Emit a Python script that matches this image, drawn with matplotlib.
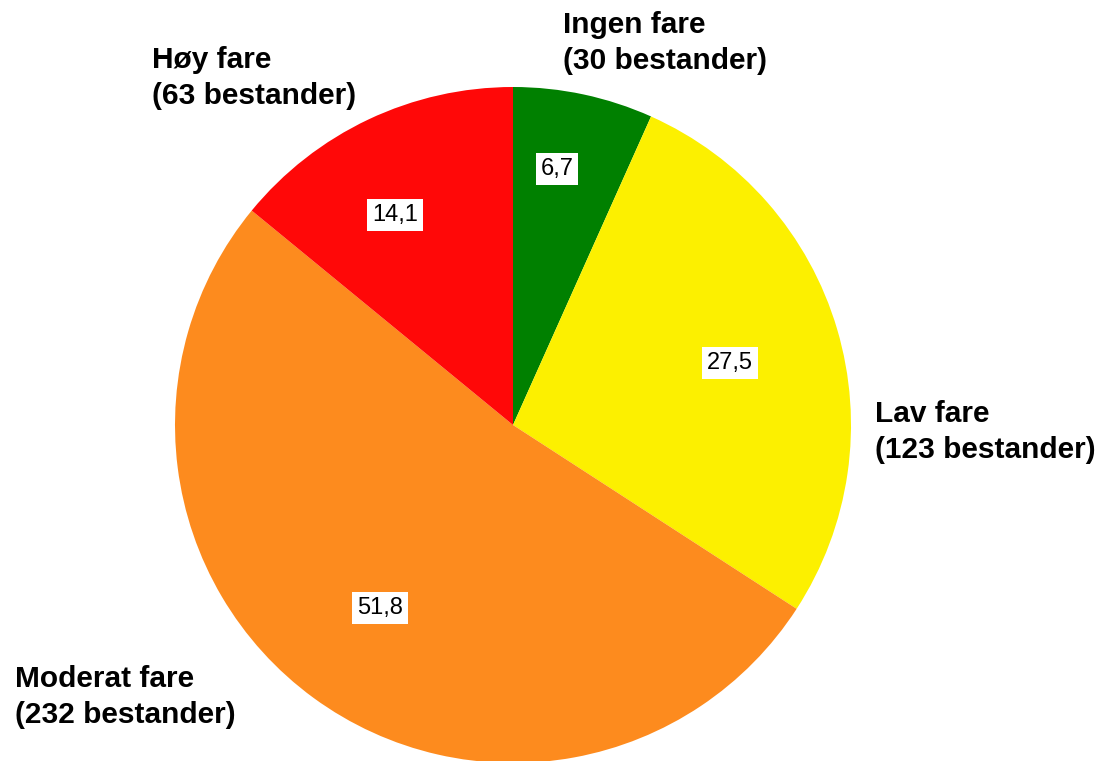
import matplotlib.pyplot as plt

plt.rcParams['font.family'] = ['Liberation Sans', 'DejaVu Sans']

# data
categories = ["Ingen fare", "Lav fare", "Moderat fare", "Høy fare"]
bestander = [30, 123, 232, 63]
colors = ["#008000", "#FCF000", "#FD8B1E", "#FF0808"]

W, H = 1116, 761
fig = plt.figure(figsize=(W / 100, H / 100), dpi=100)
ax = fig.add_axes([0, 0, 1, 1])

wedges, texts, autotexts = ax.pie(
    bestander,
    colors=colors,
    startangle=90,
    counterclock=False,
    center=(513, H - 425),
    radius=338,
    autopct=lambda p: f"{p:.1f}".replace(".", ","),
    pctdistance=0.7,
    frame=True,
    textprops=dict(fontsize=17),
)
ax.set_xlim(0, W)
ax.set_ylim(0, H)
ax.set_aspect('auto')
ax.axis('off')

# percentage boxes (pixel centres, measured from the top)
pct_pos = [(557, 169), (730, 363), (380, 608), (395, 215)]
for t, (x, y) in zip(autotexts, pct_pos):
    t.set_position((x, H - y))
    t.set_bbox(dict(facecolor='white', edgecolor='none', pad=3.5))

# outer labels (pixel positions: left x, centre y from the top)
label_pos = [(563, 43), (875, 432), (15, 697), (152, 78)]
for name, n, (x, y) in zip(categories, bestander, label_pos):
    ax.text(x, H - y, f"{name}\n({n} bestander)", fontsize=21.5,
            fontweight='bold', ha='left', va='center', linespacing=1.32)

fig.savefig("out.png", dpi=100)
